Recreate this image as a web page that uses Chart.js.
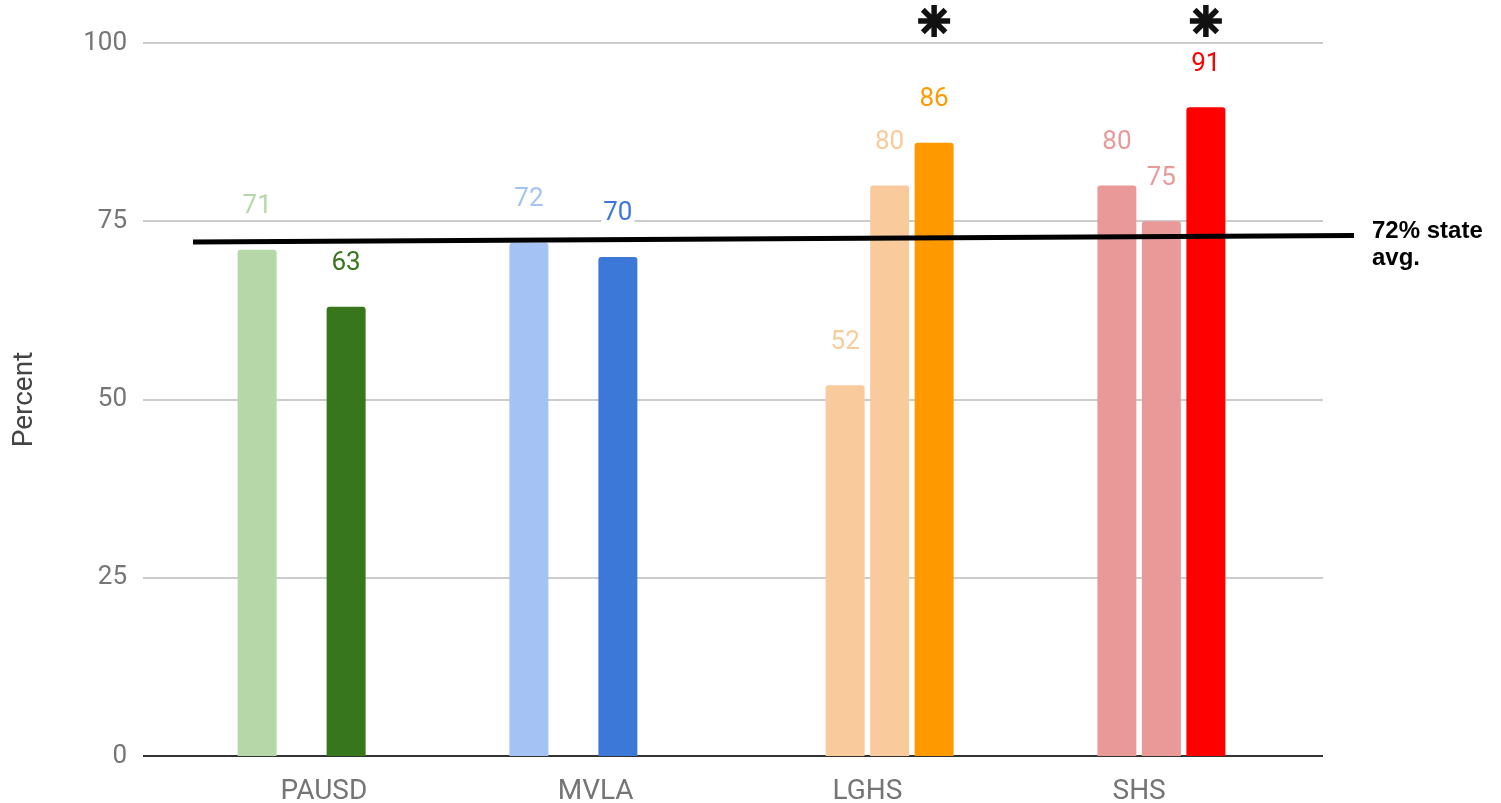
<!DOCTYPE html>
<html><head><meta charset="utf-8">
<script src="https://cdn.jsdelivr.net/npm/chart.js@4/dist/chart.umd.min.js"></script>
<style>html,body{margin:0;padding:0;background:#fff}</style>
</head><body>
<canvas id="c" width="1501" height="803"></canvas>
<script>
// ---- data ----
const categories = ['PAUSD', 'MVLA', 'LGHS', 'SHS'];
const slotA = [71, 72, null, null];
const slotB = [null, null, 52, 80];
const slotC = [63, 70, 80, 75];
const slotD = [null, null, 86, 91];
const colorsA = ['#b6d7a8', '#a4c2f4', null, null];
const colorsB = [null, null, '#f9cb9c', '#ea9999'];
const colorsC = ['#38761d', '#3c78d8', '#f9cb9c', '#ea9999'];
const colorsD = [null, null, '#ff9900', '#ff0000'];
const yTicks = [0, 25, 50, 75, 100];
const stateAvgEnds = [72.1, 73.0];      // hand-drawn, slightly tilted state-average line
const stateAvgLabel = ['72% state', 'avg.'];
const starredSlot = 3;                   // dataset with the asterisks
const starredCats = [2, 3];

const FONT = 'Roboto';

const extras = {
  id: 'extras',
  beforeDatasetsDraw(chart) {
    const ctx = chart.ctx, ca = chart.chartArea, y = chart.scales.y;
    const x0 = ca.left - 45, x1 = ca.right + 48;
    ctx.save();
    yTicks.forEach(v => {
      const py = Math.round(y.getPixelForValue(v));
      ctx.beginPath();
      ctx.strokeStyle = v === 0 ? '#333333' : '#cccccc';
      ctx.lineWidth = 2;
      ctx.moveTo(x0, py); ctx.lineTo(x1, py); ctx.stroke();
    });
    ctx.restore();
  },
  afterDatasetsDraw(chart) {
    const ctx = chart.ctx, ca = chart.chartArea, y = chart.scales.y;
    ctx.save();
    // data labels
    ctx.font = '26px ' + FONT;
    ctx.textAlign = 'center';
    ctx.textBaseline = 'middle';
    chart.data.datasets.forEach((ds, di) => {
      const meta = chart.getDatasetMeta(di);
      ds.data.forEach((v, i) => {
        if (v === null) return;
        const el = meta.data[i];
        const ly = el.y - 43;
        const txt = String(v);
        const w = ctx.measureText(txt).width;
        ctx.fillStyle = '#ffffff';
        ctx.fillRect(el.x - w / 2 - 2, ly - 11, w + 4, 22);
        ctx.fillStyle = ds.backgroundColor[i];
        ctx.fillText(txt, el.x, ly);
      });
    });
    // asterisks
    const meta = chart.getDatasetMeta(starredSlot);
    ctx.strokeStyle = '#111111';
    ctx.lineWidth = 5.5;
    starredCats.forEach(i => {
      const cx = meta.data[i].x, cy = 21, r = 16;
      for (let k = 0; k < 4; k++) {
        const a = k * Math.PI / 4;
        ctx.beginPath();
        ctx.moveTo(cx - r * Math.cos(a), cy - r * Math.sin(a));
        ctx.lineTo(cx + r * Math.cos(a), cy + r * Math.sin(a));
        ctx.stroke();
      }
    });
    // state average line
    ctx.strokeStyle = '#000000';
    ctx.lineWidth = 5;
    ctx.beginPath();
    ctx.moveTo(ca.left + 5, y.getPixelForValue(stateAvgEnds[0]));
    ctx.lineTo(ca.right + 79, y.getPixelForValue(stateAvgEnds[1]));
    ctx.stroke();
    // label
    ctx.fillStyle = '#000000';
    ctx.font = 'bold 24px "Liberation Sans", Arial, sans-serif';
    ctx.textAlign = 'left';
    ctx.textBaseline = 'alphabetic';
    ctx.fillText(stateAvgLabel[0], ca.right + 97, 238);
    ctx.fillText(stateAvgLabel[1], ca.right + 97, 265);
    ctx.restore();
  }
};

const barOpts = { borderRadius: { topLeft: 3, topRight: 3 }, borderSkipped: 'bottom',
  categoryPercentage: 0.655, barPercentage: 0.876 };

new Chart(document.getElementById('c'), {
  type: 'bar',
  data: {
    labels: categories,
    datasets: [
      Object.assign({ label: 'A', data: slotA, backgroundColor: colorsA }, barOpts),
      Object.assign({ label: 'B', data: slotB, backgroundColor: colorsB }, barOpts),
      Object.assign({ label: 'C', data: slotC, backgroundColor: colorsC }, barOpts),
      Object.assign({ label: 'D', data: slotD, backgroundColor: colorsD }, barOpts)
    ]
  },
  options: {
    responsive: false,
    animation: false,
    layout: { padding: { left: 0, right: 226, top: 43, bottom: 0 } },
    plugins: { legend: { display: false }, tooltip: { enabled: false } },
    scales: {
      x: {
        grid: { display: false, drawTicks: true, tickLength: 19 },
        border: { display: false },
        ticks: { font: { family: FONT, size: 28 }, color: '#757575', padding: 0 },
        afterFit(s) { s.height = 47; }
      },
      y: {
        min: 0, max: 100,
        afterBuildTicks(s) { s.ticks = yTicks.map(v => ({ value: v })); },
        grid: { display: false, drawTicks: true, tickLength: 61 },
        border: { display: false },
        ticks: { font: { family: FONT, size: 26 }, color: '#757575', padding: 0 },
        title: { display: true, text: 'Percent', font: { family: FONT, size: 28 }, color: '#444444',
                 padding: { top: 8, bottom: 0 } },
        afterFit(s) { s.width = 188; }
      }
    }
  },
  plugins: [extras]
});
</script>
</body></html>
